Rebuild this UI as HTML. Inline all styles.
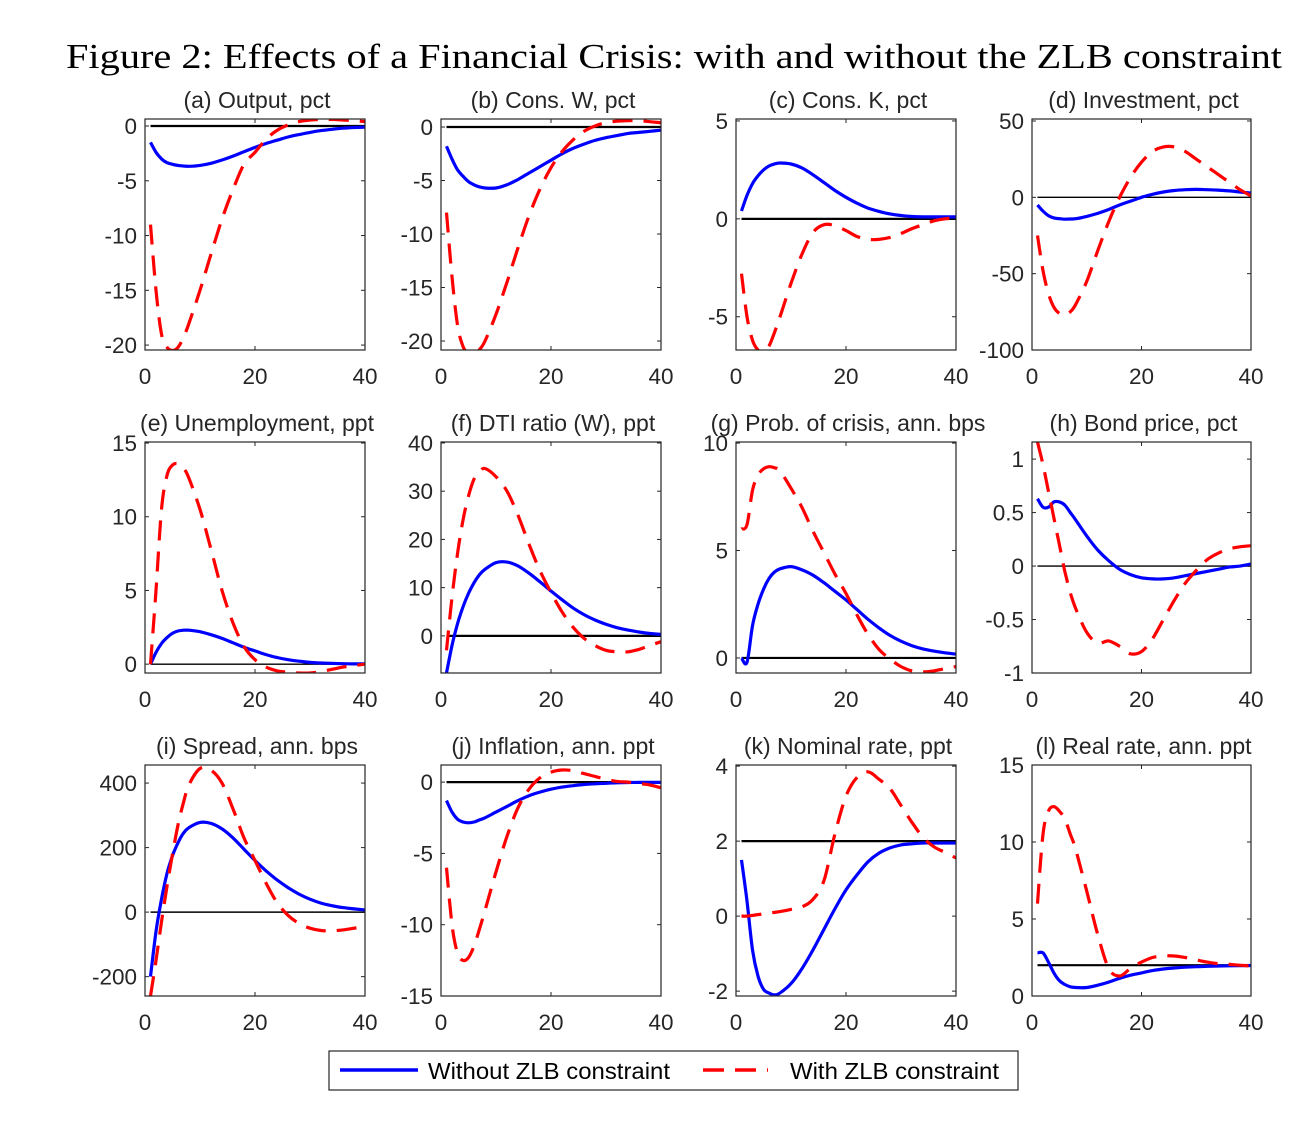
<!DOCTYPE html>
<html><head><meta charset="utf-8"><style>
html,body{margin:0;padding:0;background:#fff;}
svg{display:block;}
text{font-family:"Liberation Sans",sans-serif;fill:#262626;}
</style></head>
<body>
<svg id="fig" width="1314" height="1124" viewBox="0 0 1314 1124" xmlns="http://www.w3.org/2000/svg">
<text x="66" y="68" style="font-family:'Liberation Serif',serif;font-size:35px;fill:#000" textLength="1216" lengthAdjust="spacingAndGlyphs">Figure 2: Effects of a Financial Crisis: with and without the ZLB constraint</text>
<g>
<rect x="329" y="1051" width="689" height="39" fill="#fff" stroke="#262626" stroke-width="1.2"/>
<line x1="340" y1="1070" x2="418" y2="1070" stroke="#0000ff" stroke-width="3.5"/>
<text x="428" y="1079" font-size="23" style="fill:#000" textLength="242" lengthAdjust="spacingAndGlyphs">Without ZLB constraint</text>
<line x1="703" y1="1070" x2="768" y2="1070" stroke="#ff0000" stroke-width="3.5" stroke-dasharray="21,11"/>
<text x="790" y="1079" font-size="23" style="fill:#000" textLength="209" lengthAdjust="spacingAndGlyphs">With ZLB constraint</text>
</g>
</svg>
<script>
const X = [1,2,3,4,5,6,7,8,10,12,14,16,18,20,22,24,26,28,30,32,34,36,38,40];
const titles = ["(a) Output, pct","(b) Cons. W, pct","(c) Cons. K, pct","(d) Investment, pct","(e) Unemployment, ppt","(f) DTI ratio (W), ppt","(g) Prob. of crisis, ann. bps","(h) Bond price, pct","(i) Spread, ann. bps","(j) Inflation, ann. ppt","(k) Nominal rate, ppt","(l) Real rate, ann. ppt"];
const ylims = [[-20.45,0.64],[-20.84,0.75],[-6.7,5.1],[-100,51.3],[-0.6,15.07],[-7.7,40.2],[-0.7,10.05],[-1,1.16],[-260,456],[-15,1.2],[-2.13,4.03],[0,15]];
const yticks = [[-20,-15,-10,-5,0],[-20,-15,-10,-5,0],[-5,0,5],[-100,-50,0,50],[0,5,10,15],[0,10,20,30,40],[0,5,10],[-1,-0.5,0,0.5,1],[-200,0,200,400],[-15,-10,-5,0],[-2,0,2,4],[0,5,10,15]];
const xticks = [0,20,40];
const refs = [0,0,0,0,0,0,0,0,0,0,2,2];
const blueA=[-1.5,-2.4,-3.0,-3.35,-3.5,-3.6,-3.65,-3.68,-3.6,-3.4,-3.1,-2.75,-2.35,-1.95,-1.6,-1.3,-1.0,-0.78,-0.58,-0.42,-0.3,-0.2,-0.14,-0.1];
const redA=[-9,-15,-19,-20.2,-20.5,-20.2,-19.3,-18,-15,-11.7,-8.5,-5.8,-3.5,-2.4,-1.2,-0.4,0.1,0.4,0.55,0.6,0.6,0.55,0.5,0.4];
const blueB=[-1.8,-3,-4,-4.6,-5.1,-5.4,-5.6,-5.7,-5.7,-5.4,-4.9,-4.3,-3.7,-3.1,-2.5,-2,-1.6,-1.25,-1,-0.8,-0.6,-0.5,-0.4,-0.3];
const redB=[-8,-14,-18.5,-20.5,-21.2,-21.3,-20.8,-20,-17.5,-14.5,-11.3,-8.3,-5.8,-3.8,-2.3,-1.2,-0.4,0.1,0.4,0.55,0.6,0.6,0.5,0.4];
const blueC=[0.4,1.2,1.8,2.2,2.5,2.7,2.8,2.85,2.8,2.6,2.25,1.85,1.45,1.1,0.8,0.55,0.38,0.25,0.17,0.12,0.1,0.1,0.1,0.1];
const redC=[-2.8,-5,-6.2,-6.7,-6.8,-6.5,-5.8,-5,-3.3,-1.8,-0.7,-0.3,-0.35,-0.6,-0.9,-1.05,-1.05,-0.95,-0.75,-0.5,-0.3,-0.1,0.0,0.05];
const blueD=[-5,-9,-12,-13.5,-14,-14.3,-14.2,-14,-12.5,-10.5,-8,-5,-2.5,0,2,3.5,4.5,5,5.2,5,4.7,4.2,3.5,2.8];
const redD=[-25,-48,-63,-72,-76,-77,-75,-70,-55,-35,-16,0,13,23,30,33,33,30,25,20,15,10,5,1];
const blueE=[0,0.8,1.4,1.8,2.1,2.25,2.3,2.3,2.2,2,1.75,1.45,1.15,0.9,0.65,0.45,0.3,0.2,0.12,0.08,0.05,0.03,0.02,0.02];
const redE=[0,5,10.5,12.8,13.5,13.6,13.3,12.6,10.5,7.8,5,2.8,1.2,0.3,-0.2,-0.45,-0.55,-0.6,-0.6,-0.5,-0.35,-0.2,-0.1,0];
const blueF=[-7.7,-2,2.5,6,8.8,11,12.7,13.8,15.2,15.3,14.5,13,11.2,9.3,7.5,5.8,4.4,3.3,2.4,1.7,1.2,0.8,0.5,0.3];
const redF=[-3,8,17,24,29,32.5,34,34.7,33,30,25,19,13.5,9,5,1.8,-0.5,-2,-3,-3.3,-3.3,-2.8,-2,-1.2];
const blueG=[0,-0.2,1.5,2.5,3.2,3.7,4,4.15,4.25,4.1,3.85,3.5,3.1,2.7,2.25,1.8,1.4,1.05,0.78,0.57,0.42,0.32,0.24,0.18];
const redG=[6,6.2,7.8,8.5,8.8,8.9,8.85,8.7,7.9,7.0,5.9,4.9,3.9,3.0,2.0,1.1,0.4,-0.05,-0.4,-0.6,-0.65,-0.6,-0.5,-0.4];
const blueH=[0.63,0.55,0.55,0.6,0.6,0.57,0.5,0.43,0.28,0.15,0.05,-0.03,-0.08,-0.11,-0.12,-0.12,-0.11,-0.09,-0.07,-0.05,-0.03,-0.01,0.0,0.02];
const redH=[1.16,0.95,0.7,0.45,0.2,-0.05,-0.25,-0.4,-0.62,-0.72,-0.7,-0.75,-0.82,-0.8,-0.68,-0.5,-0.32,-0.16,-0.04,0.06,0.12,0.16,0.18,0.19];
const blueI=[-200,-60,40,120,175,215,245,262,278,275,258,230,195,160,128,100,76,56,40,28,20,14,10,7];
const redI=[-260,-150,-30,80,180,270,340,395,445,440,400,320,230,160,90,30,-10,-35,-50,-57,-58,-55,-50,-45];
const blueJ=[-1.3,-2.1,-2.6,-2.8,-2.85,-2.8,-2.65,-2.5,-2.1,-1.7,-1.3,-0.95,-0.7,-0.5,-0.35,-0.25,-0.17,-0.12,-0.08,-0.05,-0.03,-0.02,-0.02,-0.02];
const redJ=[-6,-10,-12,-12.5,-12.3,-11.5,-10.3,-9,-6.3,-3.8,-1.8,-0.5,0.3,0.7,0.85,0.8,0.6,0.4,0.2,0.05,0,-0.1,-0.2,-0.4];
const blueK=[1.5,0.4,-0.9,-1.6,-1.95,-2.05,-2.1,-2.05,-1.8,-1.4,-0.9,-0.35,0.2,0.7,1.1,1.45,1.68,1.82,1.9,1.93,1.95,1.95,1.95,1.95];
const redK=[0,0,0.02,0.04,0.06,0.08,0.1,0.12,0.18,0.25,0.45,0.95,2.2,3.2,3.7,3.85,3.65,3.4,2.95,2.5,2.1,1.85,1.7,1.55];
const blueL=[2.8,2.8,2.2,1.5,1.0,0.75,0.6,0.55,0.55,0.7,0.9,1.15,1.35,1.5,1.65,1.75,1.82,1.87,1.9,1.93,1.95,1.96,1.97,1.98];
const redL=[6,10.5,12,12.3,12,11.5,10.5,9.5,6.8,4,1.8,1.3,1.8,2.2,2.5,2.6,2.6,2.5,2.35,2.2,2.1,2.05,2.0,1.95];
const blues=[blueA,blueB,blueC,blueD,blueE,blueF,blueG,blueH,blueI,blueJ,blueK,blueL];
const reds=[redA,redB,redC,redD,redE,redF,redG,redH,redI,redJ,redK,redL];

const NS="http://www.w3.org/2000/svg";
const svg=document.getElementById('fig');
const colsX=[[145,365],[441,661],[736,956],[1032,1251]];
const rowsY=[[119,350],[442,673],[765,996]];
function mk(tag,attrs,parent){const e=document.createElementNS(NS,tag);for(const k in attrs)e.setAttribute(k,attrs[k]);parent.appendChild(e);return e;}
function smooth(pts){
  let d="M"+pts[0][0].toFixed(1)+","+pts[0][1].toFixed(1);
  for(let i=0;i<pts.length-1;i++){
    const p0=pts[i-1]||pts[i],p1=pts[i],p2=pts[i+1],p3=pts[i+2]||p2;
    const c1=[p1[0]+(p2[0]-p0[0])/6,p1[1]+(p2[1]-p0[1])/6];
    const c2=[p2[0]-(p3[0]-p1[0])/6,p2[1]-(p3[1]-p1[1])/6];
    d+=" C"+c1[0].toFixed(1)+","+c1[1].toFixed(1)+" "+c2[0].toFixed(1)+","+c2[1].toFixed(1)+" "+p2[0].toFixed(1)+","+p2[1].toFixed(1);
  }
  return d;
}
const panelNames=["output","cons-w","cons-k","investment","unemployment","dti-ratio","prob-crisis","bond-price","spread","inflation","nominal-rate","real-rate"];
for(let p=0;p<12;p++){
  const [x0,x1]=colsX[p%4],[y0,y1]=rowsY[Math.floor(p/4)];
  const [ymin,ymax]=ylims[p];
  const sx=v=>x0+(v-0)/(40-0)*(x1-x0);
  const sy=v=>y1-(v-ymin)/(ymax-ymin)*(y1-y0);
  const g=mk('g',{},svg);
  
  
  const cid='clip'+p;
  const cp=mk('clipPath',{id:cid},g);
  mk('rect',{x:x0,y:y0,width:x1-x0,height:y1-y0},cp);
  const t=mk('text',{x:(x0+x1)/2+2,y:y0-11,'text-anchor':'middle','font-size':'23'},g);
  t.textContent=titles[p];
  
  
  yticks[p].forEach(v=>{
    const yy=sy(v);
    mk('line',{x1:x0,y1:yy,x2:x0+4,y2:yy,stroke:'#262626','stroke-width':1},g);
    mk('line',{x1:x1,y1:yy,x2:x1-4,y2:yy,stroke:'#262626','stroke-width':1},g);
    const tl=mk('text',{x:x0-8,y:yy+8,'text-anchor':'end','font-size':'22.5'},g);
    tl.textContent=String(v);
    
    
  });
  xticks.forEach(v=>{
    const xx=sx(v);
    mk('line',{x1:xx,y1:y1,x2:xx,y2:y1-4,stroke:'#262626','stroke-width':1},g);
    mk('line',{x1:xx,y1:y0,x2:xx,y2:y0+4,stroke:'#262626','stroke-width':1},g);
    const tl=mk('text',{x:xx,y:y1+34,'text-anchor':'middle','font-size':'22.5'},g);
    tl.textContent=String(v);
    
    
  });
  const inner=mk('g',{'clip-path':'url(#'+cid+')'},g);
  const rl=mk('line',{x1:sx(1),y1:sy(refs[p]),x2:sx(40),y2:sy(refs[p]),stroke:'#000','stroke-width':([3,4,7,8].includes(p)?1.4:2.2)},inner);
  
  
  const bl=mk('path',{d:smooth(X.map((x,i)=>[sx(x),sy(blues[p][i])])),fill:'none',stroke:'#0000ff','stroke-width':3.2,'stroke-linejoin':'round'},inner);
  
  
  const rd=mk('path',{d:smooth(X.map((x,i)=>[sx(x),sy(reds[p][i])])),fill:'none',stroke:'#ff0000','stroke-width':3.2,'stroke-dasharray':'20,11'},inner);
  
  
  const fr=mk('rect',{x:x0,y:y0,width:x1-x0,height:y1-y0,fill:'none',stroke:'#262626','stroke-width':1.2},g);
  
  
}
</script>
</body></html>
